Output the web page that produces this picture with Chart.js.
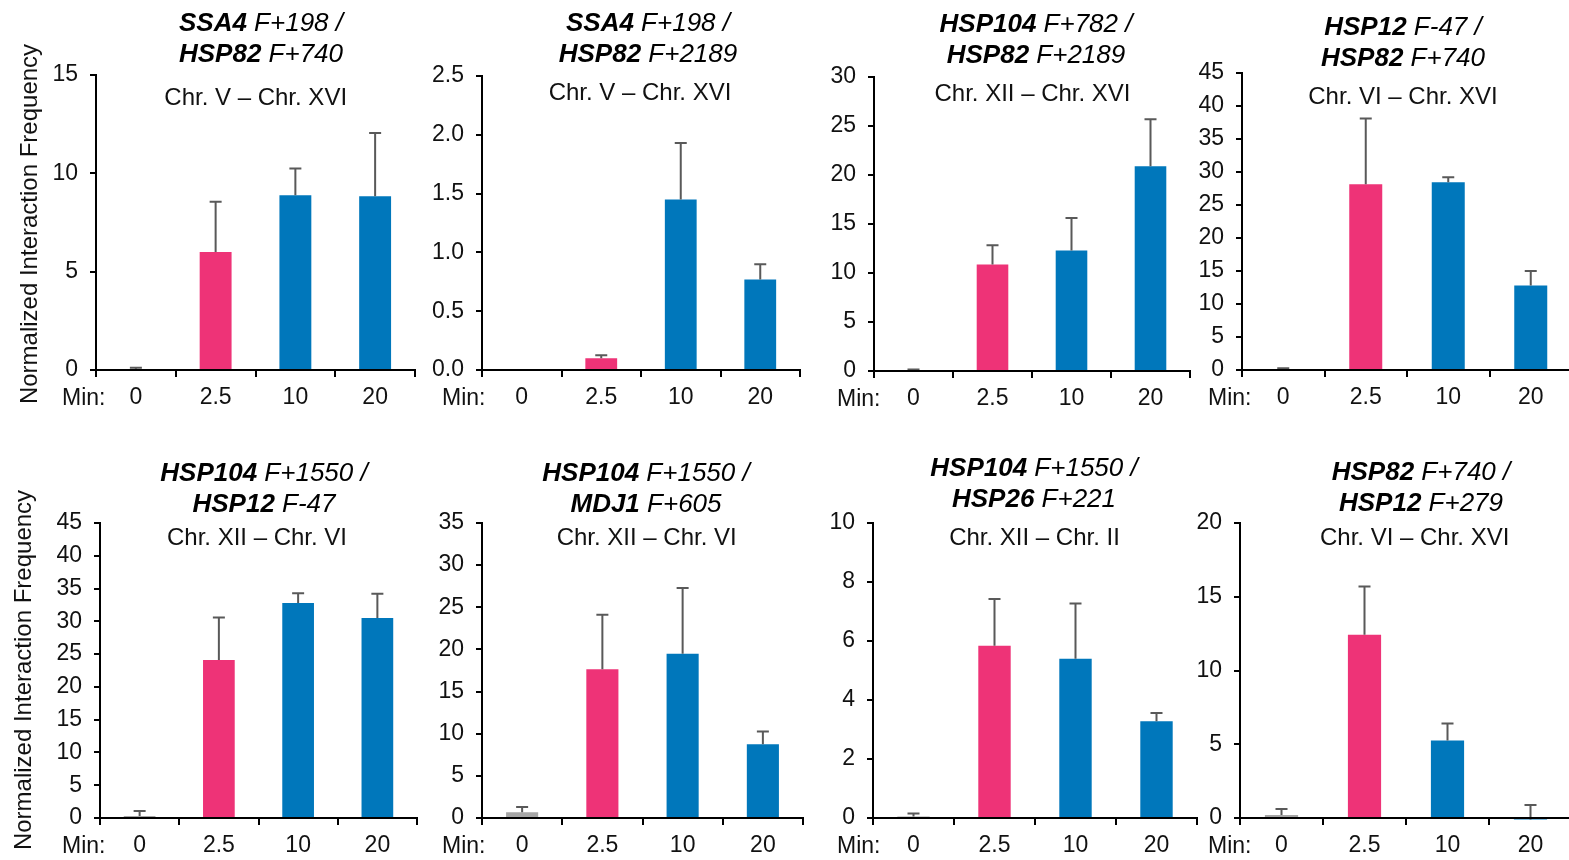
<!DOCTYPE html>
<html>
<head>
<meta charset="utf-8">
<script src="https://cdn.jsdelivr.net/npm/chart.js@4.4.0/dist/chart.umd.min.js"></script>
<style>
  html, body { margin: 0; padding: 0; background: #fff; }
  body { width: 1569px; height: 860px; overflow: hidden; position: relative;
         font-family: 'Liberation Sans', Arial, sans-serif; color: #000; }
  canvas { position: absolute; }
  .title { position: absolute; font-size: 26px; line-height: 31px; text-align: center;
           white-space: nowrap; transform: translateX(-50%); font-style: italic; }
  .title b { font-weight: bold; }
  .sub { position: absolute; font-size: 24px; line-height: 24px; white-space: nowrap;
         transform: translateX(-50%); color: #111; }
  .min { position: absolute; font-size: 23px; line-height: 23px; color: #111; }
  .ylab { position: absolute; font-size: 24px; line-height: 24px; white-space: nowrap; color: #111;
          transform: translate(-50%, -50%) rotate(-90deg); }
</style>
</head>
<body>
<script>
// time points (min after heat shock)
const minutes = ['0', '2.5', '10', '20'];

// gene pairs and chromosome pairs per panel
const genesA = ['SSA4', 'SSA4', 'HSP104', 'HSP12', 'HSP104', 'HSP104', 'HSP104', 'HSP82'];
const sitesA = ['F+198', 'F+198', 'F+782', 'F-47', 'F+1550', 'F+1550', 'F+1550', 'F+740'];
const genesB = ['HSP82', 'HSP82', 'HSP82', 'HSP82', 'HSP12', 'MDJ1', 'HSP26', 'HSP12'];
const sitesB = ['F+740', 'F+2189', 'F+2189', 'F+740', 'F-47', 'F+605', 'F+221', 'F+279'];
const chrPairs = ['Chr. V – Chr. XVI', 'Chr. V – Chr. XVI', 'Chr. XII – Chr. XVI', 'Chr. VI – Chr. XVI',
                  'Chr. XII – Chr. VI', 'Chr. XII – Chr. VI', 'Chr. XII – Chr. II', 'Chr. VI – Chr. XVI'];

// normalized interaction frequency (mean) and SD
const ssa4Hsp82_740 = [0.03, 6.0, 8.88, 8.83];
const ssa4Hsp82_740Err = [0.09, 2.55, 1.36, 3.22];
const ssa4Hsp82_2189 = [0.008, 0.10, 1.45, 0.77];
const ssa4Hsp82_2189Err = [0, 0.025, 0.48, 0.13];
const hsp104Hsp82_2189 = [0.05, 10.87, 12.3, 20.9];
const hsp104Hsp82_2189Err = [0.1, 1.97, 3.3, 4.8];
const hsp12Hsp82_740 = [0.15, 28.15, 28.45, 12.8];
const hsp12Hsp82_740Err = [0.1, 9.95, 0.75, 2.2];
const hsp104Hsp12_47 = [0.3, 24.1, 32.8, 30.5];
const hsp104Hsp12_47Err = [0.77, 6.5, 1.5, 3.7];
const hsp104Mdj1_605 = [0.68, 17.64, 19.5, 8.76];
const hsp104Mdj1_605Err = [0.63, 6.46, 7.8, 1.51];
const hsp104Hsp26_221 = [0.05, 5.84, 5.40, 3.28];
const hsp104Hsp26_221Err = [0.1, 1.58, 1.87, 0.28];
const hsp82Hsp12_279 = [0.2, 12.43, 5.25, -0.1];
const hsp82Hsp12_279Err = [0.41, 3.26, 1.15, 0.98];

const means = [ssa4Hsp82_740, ssa4Hsp82_2189, hsp104Hsp82_2189, hsp12Hsp82_740,
               hsp104Hsp12_47, hsp104Mdj1_605, hsp104Hsp26_221, hsp82Hsp12_279];
const errors = [ssa4Hsp82_740Err, ssa4Hsp82_2189Err, hsp104Hsp82_2189Err, hsp12Hsp82_740Err,
                hsp104Hsp12_47Err, hsp104Mdj1_605Err, hsp104Hsp26_221Err, hsp82Hsp12_279Err];

// y axis ranges
const yMax = [15, 2.5, 30, 45, 45, 35, 10, 20];
const yStep = [5, 0.5, 5, 5, 5, 5, 2, 5];

// panel frames: y-axis x, top of axis, zero line, right end of x axis, text anchors
const frames = [
  { x: 96,   top: 75,  zero: 370, right: 415,  tx: 261,  tb: 31.7, sx: 255.7, sb: 105,   mx: 62 },
  { x: 482,  top: 76,  zero: 370, right: 800,  tx: 648,  tb: 31.7, sx: 640,   sb: 100,   mx: 442 },
  { x: 874,  top: 77,  zero: 371, right: 1190, tx: 1036, tb: 32.3, sx: 1032.5, sb: 101.7, mx: 837 },
  { x: 1242, top: 73,  zero: 370, right: 1572, tx: 1403, tb: 35,   sx: 1403,  sb: 104,   mx: 1208 },
  { x: 100,  top: 523, zero: 818, right: 417,  tx: 264,  tb: 481.7, sx: 257,  sb: 545,   mx: 62 },
  { x: 482,  top: 523, zero: 818, right: 803,  tx: 646,  tb: 481.7, sx: 646.7, sb: 545,  mx: 442 },
  { x: 873,  top: 523, zero: 818, right: 1197, tx: 1034, tb: 476.7, sx: 1034.5, sb: 545, mx: 837 },
  { x: 1240, top: 523, zero: 818, right: 1572, tx: 1421, tb: 480.7, sx: 1414.7, sb: 545, mx: 1208 }
];

const barColors = ['#A6A6A6', '#EE3377', '#0077BB', '#0077BB'];
const FONT = "'Liberation Sans', Arial, sans-serif";
// y tick labels need ~26px above the plot (half label + padding)
const LEFT_W = 75, BOTTOM_H = 50, PAD_TOP = 28, PAD_RIGHT = 5;

// one-sided error bars drawn from the bar top
const errorBars = {
  id: 'errorBars',
  afterDatasetsDraw(chart) {
    const ctx = chart.ctx;
    const y = chart.scales.y;
    const ds = chart.data.datasets[0];
    const meta = chart.getDatasetMeta(0);
    ctx.save();
    ctx.strokeStyle = '#595959';
    ctx.lineWidth = 2;
    meta.data.forEach((bar, i) => {
      const e = ds.errors[i];
      if (!e) return;
      const v = ds.data[i];
      const y0 = y.getPixelForValue(v);
      const y1 = y.getPixelForValue(v + e);
      ctx.beginPath();
      ctx.moveTo(bar.x, y0);
      ctx.lineTo(bar.x, y1);
      ctx.moveTo(bar.x - 6, y1);
      ctx.lineTo(bar.x + 6, y1);
      ctx.stroke();
    });
    ctx.restore();
  }
};

function addDiv(cls, html, left, top) {
  const d = document.createElement('div');
  d.className = cls;
  d.innerHTML = html;
  d.style.left = left + 'px';
  d.style.top = top + 'px';
  document.body.appendChild(d);
  return d;
}

frames.forEach((f, i) => {
  const canvas = document.createElement('canvas');
  const w = LEFT_W + (f.right - f.x) + PAD_RIGHT;
  const h = PAD_TOP + (f.zero - f.top) + BOTTOM_H;
  canvas.width = w;
  canvas.height = h;
  canvas.style.left = (f.x - LEFT_W) + 'px';
  canvas.style.top = (f.top - PAD_TOP) + 'px';
  document.body.appendChild(canvas);

  const step = yStep[i];
  new Chart(canvas.getContext('2d'), {
    type: 'bar',
    data: {
      labels: minutes,
      datasets: [{
        data: means[i],
        errors: errors[i],
        backgroundColor: barColors,
        borderWidth: 0,
        barPercentage: 0.4,
        categoryPercentage: 1,
        clip: false
      }]
    },
    options: {
      responsive: false,
      animation: false,
      events: [],
      layout: { padding: { top: PAD_TOP, right: PAD_RIGHT, left: 0, bottom: 0 } },
      plugins: { legend: { display: false }, tooltip: { enabled: false } },
      scales: {
        x: {
          grid: { drawOnChartArea: false, color: '#000', lineWidth: 2, tickLength: 7, offset: true },
          border: { color: '#000', width: 2, z: 1 },
          ticks: { color: '#111', font: { family: FONT, size: 23 }, padding: 7, maxRotation: 0, autoSkip: false },
          afterFit(s) { s.height = BOTTOM_H; }
        },
        y: {
          min: 0,
          max: yMax[i],
          grid: { drawOnChartArea: false, color: '#000', lineWidth: 2, tickLength: 6 },
          border: { color: '#000', width: 2, z: 1 },
          ticks: {
            stepSize: step,
            color: '#111',
            font: { family: FONT, size: 23 },
            padding: 12,
            callback: v => step < 1 ? v.toFixed(1) : v
          },
          afterFit(s) { s.width = LEFT_W; }
        }
      }
    },
    plugins: [errorBars]
  });

  addDiv('title', '<b>' + genesA[i] + '</b> ' + sitesA[i] + ' /<br><b>' + genesB[i] + '</b> ' + sitesB[i],
         f.tx, f.tb - 24.5);
  addDiv('sub', chrPairs[i], f.sx, f.sb - 20.3);
  addDiv('min', 'Min:', f.mx, f.zero + 35 - 19.5);
});

// shared y-axis titles for both rows
addDiv('ylab', 'Normalized Interaction Frequency', 29, 224);
addDiv('ylab', 'Normalized Interaction Frequency', 23, 670);
</script>
</body>
</html>
